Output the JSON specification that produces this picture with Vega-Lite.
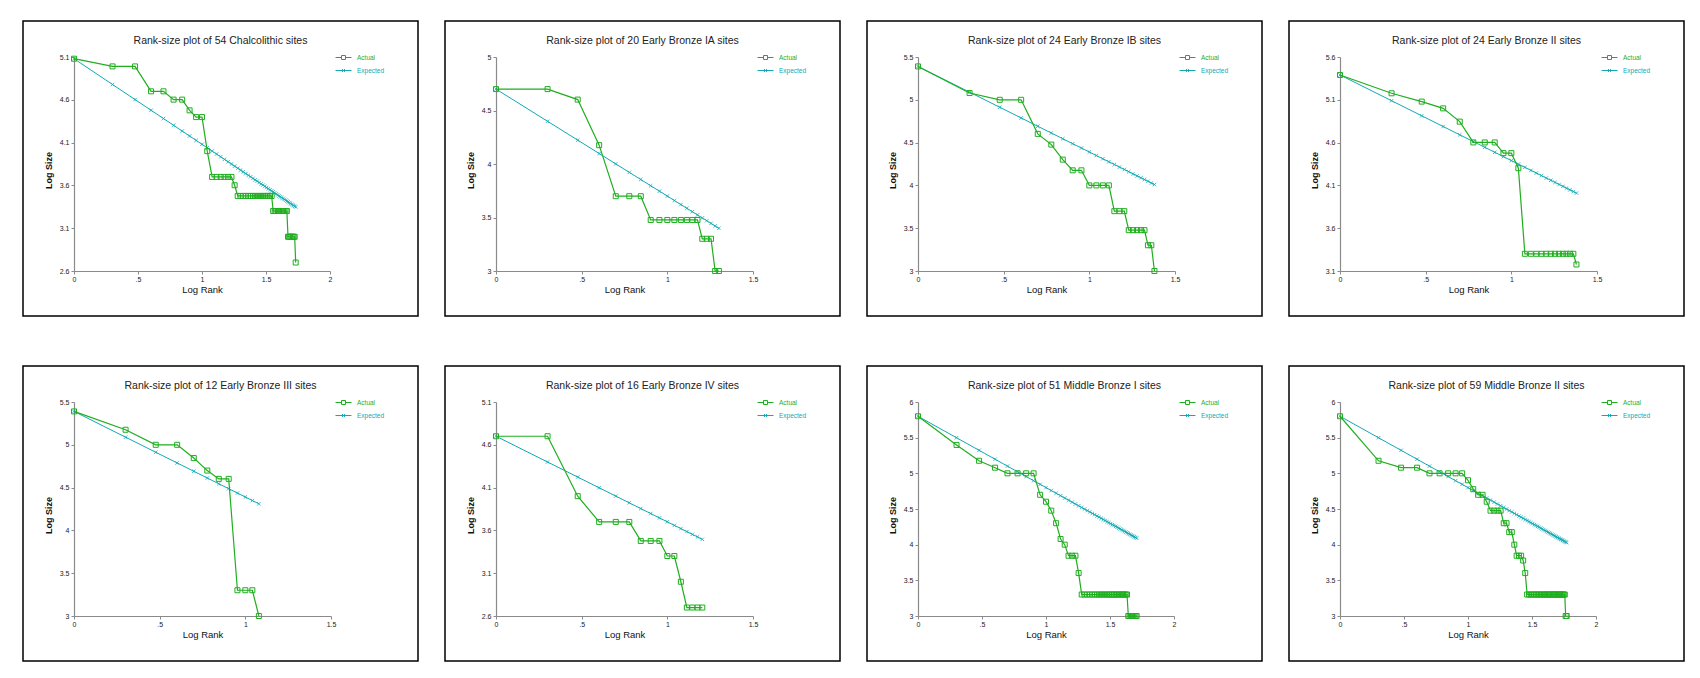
{
"$schema": "https://vega.github.io/schema/vega-lite/v6.json",
"padding": {"left": 22, "top": 20, "right": 5, "bottom": 5},
"background": "white",
"columns": 4,
"spacing": {"row": 48, "column": 25},
"resolve": {"scale": {"color": "independent", "x": "independent", "y": "independent"}, "legend": {"color": "independent"}},
"datasets": {
"p1": [
{"r":0,"a":5.08,"e":5.08},{"r":0.301,"a":4.99,"e":4.779},{"r":0.477,"a":4.99,"e":4.603},{"r":0.602,"a":4.699,"e":4.478},{"r":0.699,"a":4.699,"e":4.381},{"r":0.778,"a":4.602,"e":4.302},{"r":0.845,"a":4.602,"e":4.235},{"r":0.903,"a":4.477,"e":4.177},{"r":0.954,"a":4.398,"e":4.126},{"r":1,"a":4.398,"e":4.08},
{"r":1.041,"a":4.0,"e":4.039},{"r":1.079,"a":3.699,"e":4.001},{"r":1.114,"a":3.699,"e":3.966},{"r":1.146,"a":3.699,"e":3.934},{"r":1.176,"a":3.699,"e":3.904},{"r":1.204,"a":3.699,"e":3.876},{"r":1.23,"a":3.699,"e":3.85},{"r":1.255,"a":3.602,"e":3.825},{"r":1.279,"a":3.477,"e":3.801},{"r":1.301,"a":3.477,"e":3.779},
{"r":1.322,"a":3.477,"e":3.758},{"r":1.342,"a":3.477,"e":3.738},{"r":1.362,"a":3.477,"e":3.718},{"r":1.38,"a":3.477,"e":3.7},{"r":1.398,"a":3.477,"e":3.682},{"r":1.415,"a":3.477,"e":3.665},{"r":1.431,"a":3.477,"e":3.649},{"r":1.447,"a":3.477,"e":3.633},{"r":1.462,"a":3.477,"e":3.618},{"r":1.477,"a":3.477,"e":3.603},
{"r":1.491,"a":3.477,"e":3.589},{"r":1.505,"a":3.477,"e":3.575},{"r":1.519,"a":3.477,"e":3.561},{"r":1.531,"a":3.477,"e":3.549},{"r":1.544,"a":3.477,"e":3.536},{"r":1.556,"a":3.301,"e":3.524},{"r":1.568,"a":3.301,"e":3.512},{"r":1.58,"a":3.301,"e":3.5},{"r":1.591,"a":3.301,"e":3.489},{"r":1.602,"a":3.301,"e":3.478},
{"r":1.613,"a":3.301,"e":3.467},{"r":1.623,"a":3.301,"e":3.457},{"r":1.633,"a":3.301,"e":3.447},{"r":1.643,"a":3.301,"e":3.437},{"r":1.653,"a":3.301,"e":3.427},{"r":1.663,"a":3.301,"e":3.417},{"r":1.672,"a":3.0,"e":3.408},{"r":1.681,"a":3.0,"e":3.399},{"r":1.69,"a":3.0,"e":3.39},{"r":1.699,"a":3.0,"e":3.381},
{"r":1.708,"a":3.0,"e":3.372},{"r":1.716,"a":3.0,"e":3.364},{"r":1.724,"a":3.0,"e":3.356},{"r":1.732,"a":2.699,"e":3.348}
],
"p2": [
{"r":0,"a":4.7,"e":4.7},{"r":0.301,"a":4.7,"e":4.399},{"r":0.477,"a":4.602,"e":4.223},{"r":0.602,"a":4.176,"e":4.098},{"r":0.699,"a":3.699,"e":4.001},{"r":0.778,"a":3.699,"e":3.922},{"r":0.845,"a":3.699,"e":3.855},{"r":0.903,"a":3.477,"e":3.797},{"r":0.954,"a":3.477,"e":3.746},{"r":1,"a":3.477,"e":3.7},
{"r":1.041,"a":3.477,"e":3.659},{"r":1.079,"a":3.477,"e":3.621},{"r":1.114,"a":3.477,"e":3.586},{"r":1.146,"a":3.477,"e":3.554},{"r":1.176,"a":3.477,"e":3.524},{"r":1.204,"a":3.301,"e":3.496},{"r":1.23,"a":3.301,"e":3.47},{"r":1.255,"a":3.301,"e":3.445},{"r":1.279,"a":3.0,"e":3.421},{"r":1.301,"a":3.0,"e":3.399}
],
"p3": [
{"r":0,"a":5.39,"e":5.39},{"r":0.301,"a":5.079,"e":5.089},{"r":0.477,"a":5.0,"e":4.913},{"r":0.602,"a":5.0,"e":4.788},{"r":0.699,"a":4.602,"e":4.691},{"r":0.778,"a":4.477,"e":4.612},{"r":0.845,"a":4.301,"e":4.545},{"r":0.903,"a":4.176,"e":4.487},{"r":0.954,"a":4.176,"e":4.436},{"r":1,"a":4.0,"e":4.39},
{"r":1.041,"a":4.0,"e":4.349},{"r":1.079,"a":4.0,"e":4.311},{"r":1.114,"a":4.0,"e":4.276},{"r":1.146,"a":3.699,"e":4.244},{"r":1.176,"a":3.699,"e":4.214},{"r":1.204,"a":3.699,"e":4.186},{"r":1.23,"a":3.477,"e":4.16},{"r":1.255,"a":3.477,"e":4.135},{"r":1.279,"a":3.477,"e":4.111},{"r":1.301,"a":3.477,"e":4.089},
{"r":1.322,"a":3.477,"e":4.068},{"r":1.342,"a":3.301,"e":4.048},{"r":1.362,"a":3.301,"e":4.028},{"r":1.38,"a":3.0,"e":4.01}
],
"p4": [
{"r":0,"a":5.39,"e":5.39},{"r":0.301,"a":5.176,"e":5.089},{"r":0.477,"a":5.079,"e":4.913},{"r":0.602,"a":5.0,"e":4.788},{"r":0.699,"a":4.845,"e":4.691},{"r":0.778,"a":4.602,"e":4.612},{"r":0.845,"a":4.602,"e":4.545},{"r":0.903,"a":4.602,"e":4.487},{"r":0.954,"a":4.477,"e":4.436},{"r":1,"a":4.477,"e":4.39},
{"r":1.041,"a":4.301,"e":4.349},{"r":1.079,"a":3.301,"e":4.311},{"r":1.114,"a":3.301,"e":4.276},{"r":1.146,"a":3.301,"e":4.244},{"r":1.176,"a":3.301,"e":4.214},{"r":1.204,"a":3.301,"e":4.186},{"r":1.23,"a":3.301,"e":4.16},{"r":1.255,"a":3.301,"e":4.135},{"r":1.279,"a":3.301,"e":4.111},{"r":1.301,"a":3.301,"e":4.089},
{"r":1.322,"a":3.301,"e":4.068},{"r":1.342,"a":3.301,"e":4.048},{"r":1.362,"a":3.301,"e":4.028},{"r":1.38,"a":3.176,"e":4.01}
],
"p5": [
{"r":0,"a":5.39,"e":5.39},{"r":0.301,"a":5.176,"e":5.089},{"r":0.477,"a":5.0,"e":4.913},{"r":0.602,"a":5.0,"e":4.788},{"r":0.699,"a":4.845,"e":4.691},{"r":0.778,"a":4.699,"e":4.612},{"r":0.845,"a":4.602,"e":4.545},{"r":0.903,"a":4.602,"e":4.487},{"r":0.954,"a":3.301,"e":4.436},{"r":1,"a":3.301,"e":4.39},
{"r":1.041,"a":3.301,"e":4.349},{"r":1.079,"a":3.0,"e":4.311}
],
"p6": [
{"r":0,"a":4.7,"e":4.7},{"r":0.301,"a":4.7,"e":4.399},{"r":0.477,"a":4.0,"e":4.223},{"r":0.602,"a":3.699,"e":4.098},{"r":0.699,"a":3.699,"e":4.001},{"r":0.778,"a":3.699,"e":3.922},{"r":0.845,"a":3.477,"e":3.855},{"r":0.903,"a":3.477,"e":3.797},{"r":0.954,"a":3.477,"e":3.746},{"r":1,"a":3.301,"e":3.7},
{"r":1.041,"a":3.301,"e":3.659},{"r":1.079,"a":3.0,"e":3.621},{"r":1.114,"a":2.699,"e":3.586},{"r":1.146,"a":2.699,"e":3.554},{"r":1.176,"a":2.699,"e":3.524},{"r":1.204,"a":2.699,"e":3.496}
],
"p7": [
{"r":0,"a":5.8,"e":5.8},{"r":0.301,"a":5.398,"e":5.499},{"r":0.477,"a":5.176,"e":5.323},{"r":0.602,"a":5.079,"e":5.198},{"r":0.699,"a":5.0,"e":5.101},{"r":0.778,"a":5.0,"e":5.022},{"r":0.845,"a":5.0,"e":4.955},{"r":0.903,"a":5.0,"e":4.897},{"r":0.954,"a":4.699,"e":4.846},{"r":1,"a":4.602,"e":4.8},
{"r":1.041,"a":4.477,"e":4.759},{"r":1.079,"a":4.301,"e":4.721},{"r":1.114,"a":4.079,"e":4.686},{"r":1.146,"a":4.0,"e":4.654},{"r":1.176,"a":3.845,"e":4.624},{"r":1.204,"a":3.845,"e":4.596},{"r":1.23,"a":3.845,"e":4.57},{"r":1.255,"a":3.602,"e":4.545},{"r":1.279,"a":3.301,"e":4.521},{"r":1.301,"a":3.301,"e":4.499},
{"r":1.322,"a":3.301,"e":4.478},{"r":1.342,"a":3.301,"e":4.458},{"r":1.362,"a":3.301,"e":4.438},{"r":1.38,"a":3.301,"e":4.42},{"r":1.398,"a":3.301,"e":4.402},{"r":1.415,"a":3.301,"e":4.385},{"r":1.431,"a":3.301,"e":4.369},{"r":1.447,"a":3.301,"e":4.353},{"r":1.462,"a":3.301,"e":4.338},{"r":1.477,"a":3.301,"e":4.323},
{"r":1.491,"a":3.301,"e":4.309},{"r":1.505,"a":3.301,"e":4.295},{"r":1.519,"a":3.301,"e":4.281},{"r":1.531,"a":3.301,"e":4.269},{"r":1.544,"a":3.301,"e":4.256},{"r":1.556,"a":3.301,"e":4.244},{"r":1.568,"a":3.301,"e":4.232},{"r":1.58,"a":3.301,"e":4.22},{"r":1.591,"a":3.301,"e":4.209},{"r":1.602,"a":3.301,"e":4.198},
{"r":1.613,"a":3.301,"e":4.187},{"r":1.623,"a":3.301,"e":4.177},{"r":1.633,"a":3.301,"e":4.167},{"r":1.643,"a":3.0,"e":4.157},{"r":1.653,"a":3.0,"e":4.147},{"r":1.663,"a":3.0,"e":4.137},{"r":1.672,"a":3.0,"e":4.128},{"r":1.681,"a":3.0,"e":4.119},{"r":1.69,"a":3.0,"e":4.11},{"r":1.699,"a":3.0,"e":4.101},
{"r":1.708,"a":3.0,"e":4.092}
],
"p8": [
{"r":0,"a":5.8,"e":5.8},{"r":0.301,"a":5.176,"e":5.499},{"r":0.477,"a":5.079,"e":5.323},{"r":0.602,"a":5.079,"e":5.198},{"r":0.699,"a":5.0,"e":5.101},{"r":0.778,"a":5.0,"e":5.022},{"r":0.845,"a":5.0,"e":4.955},{"r":0.903,"a":5.0,"e":4.897},{"r":0.954,"a":5.0,"e":4.846},{"r":1,"a":4.903,"e":4.8},
{"r":1.041,"a":4.778,"e":4.759},{"r":1.079,"a":4.699,"e":4.721},{"r":1.114,"a":4.699,"e":4.686},{"r":1.146,"a":4.602,"e":4.654},{"r":1.176,"a":4.477,"e":4.624},{"r":1.204,"a":4.477,"e":4.596},{"r":1.23,"a":4.477,"e":4.57},{"r":1.255,"a":4.477,"e":4.545},{"r":1.279,"a":4.301,"e":4.521},{"r":1.301,"a":4.301,"e":4.499},
{"r":1.322,"a":4.176,"e":4.478},{"r":1.342,"a":4.176,"e":4.458},{"r":1.362,"a":4.0,"e":4.438},{"r":1.38,"a":3.845,"e":4.42},{"r":1.398,"a":3.845,"e":4.402},{"r":1.415,"a":3.845,"e":4.385},{"r":1.431,"a":3.778,"e":4.369},{"r":1.447,"a":3.602,"e":4.353},{"r":1.462,"a":3.301,"e":4.338},{"r":1.477,"a":3.301,"e":4.323},
{"r":1.491,"a":3.301,"e":4.309},{"r":1.505,"a":3.301,"e":4.295},{"r":1.519,"a":3.301,"e":4.281},{"r":1.531,"a":3.301,"e":4.269},{"r":1.544,"a":3.301,"e":4.256},{"r":1.556,"a":3.301,"e":4.244},{"r":1.568,"a":3.301,"e":4.232},{"r":1.58,"a":3.301,"e":4.22},{"r":1.591,"a":3.301,"e":4.209},{"r":1.602,"a":3.301,"e":4.198},
{"r":1.613,"a":3.301,"e":4.187},{"r":1.623,"a":3.301,"e":4.177},{"r":1.633,"a":3.301,"e":4.167},{"r":1.643,"a":3.301,"e":4.157},{"r":1.653,"a":3.301,"e":4.147},{"r":1.663,"a":3.301,"e":4.137},{"r":1.672,"a":3.301,"e":4.128},{"r":1.681,"a":3.301,"e":4.119},{"r":1.69,"a":3.301,"e":4.11},{"r":1.699,"a":3.301,"e":4.101},
{"r":1.708,"a":3.301,"e":4.092},{"r":1.716,"a":3.301,"e":4.084},{"r":1.724,"a":3.301,"e":4.076},{"r":1.732,"a":3.301,"e":4.068},{"r":1.74,"a":3.301,"e":4.06},{"r":1.748,"a":3.301,"e":4.052},{"r":1.756,"a":3.301,"e":4.044},{"r":1.763,"a":3.0,"e":4.037},{"r":1.771,"a":3.0,"e":4.029}
]
},
"concat": [
{
"width": 395, "height": 295, "data": {"name": "p1"},
"title": {"text": "Rank-size plot of 54 Chalcolithic sites"},
"encoding": {"x": {"field": "r", "type": "quantitative", "scale": {"domain": [0, 2], "range": [51, 307], "nice": false, "zero": false}, "axis": {"values": [0, 0.5, 1, 1.5, 2], "format": ".1~f", "labelExpr": "datum.value == 0.5 ? '.5' : datum.label", "title": "Log Rank", "orient": "bottom", "offset": -45}}},
"layer": [
{"mark": {"type": "line", "strokeWidth": 1, "point": {"shape": "M-1,-1L1,1M-1,1L1,-1", "size": 12, "filled": false, "strokeWidth": 0.8}},
 "encoding": {"y": {"field": "e", "type": "quantitative", "scale": {"domain": [2.6, 5.1], "range": [250, 36], "nice": false, "zero": false}, "axis": {"values": [2.6, 3.1, 3.6, 4.1, 4.6, 5.1], "format": ".1~f", "title": "Log Size", "orient": "left", "offset": -51, "titleY": 149}},
  "color": {"datum": "Expected", "scale": {"domain": ["Actual", "Expected"], "range": ["#1fae1f", "#12a9b4"]}, "legend": {"orient": "none", "legendX": 314, "legendY": 30, "title": null, "padding": 0, "labelFont": "Liberation Sans", "labelFontSize": 6.5, "labelOffset": 7, "symbolSize": 130, "rowPadding": 2, "encode": {"symbols": {"update": {"shape": {"signal": "datum.value === 'Actual' ? 'M-1.4,0H-0.35M0.35,0H1.4M-0.35,-0.35H0.35V0.35H-0.35Z' : 'M-1.4,0H1.4M-0.25,-0.25L0.25,0.25M-0.25,0.25L0.25,-0.25'"}, "fill": {"value": "transparent"}, "stroke": {"signal": "datum.value === 'Actual' ? '#1fae1f' : '#12a9b4'"}, "strokeWidth": {"value": 1}}}, "labels": {"update": {"fill": {"signal": "datum.value === 'Actual' ? '#1fae1f' : '#12a9b4'"}}}}}}}},
{"mark": {"type": "line", "strokeWidth": 1.2, "point": {"shape": "square", "size": 25, "filled": false, "strokeWidth": 1}},
 "encoding": {"y": {"field": "a", "type": "quantitative", "axis": {"values": [2.6, 3.1, 3.6, 4.1, 4.6, 5.1], "format": ".1~f", "title": "Log Size", "orient": "left", "offset": -51, "titleY": 149}}, "color": {"datum": "Actual"}}}
]
},
{
"width": 395, "height": 295, "data": {"name": "p2"},
"title": {"text": "Rank-size plot of 20 Early Bronze IA sites"},
"encoding": {"x": {"field": "r", "type": "quantitative", "scale": {"domain": [0, 1.5], "range": [51, 308], "nice": false, "zero": false}, "axis": {"values": [0, 0.5, 1, 1.5], "format": ".1~f", "labelExpr": "datum.value == 0.5 ? '.5' : datum.label", "title": "Log Rank", "orient": "bottom", "offset": -45}}},
"layer": [
{"mark": {"type": "line", "strokeWidth": 1, "point": {"shape": "M-1,-1L1,1M-1,1L1,-1", "size": 12, "filled": false, "strokeWidth": 0.8}},
 "encoding": {"y": {"field": "e", "type": "quantitative", "scale": {"domain": [3, 5], "range": [250, 36], "nice": false, "zero": false}, "axis": {"values": [3, 3.5, 4, 4.5, 5], "format": ".1~f", "title": "Log Size", "orient": "left", "offset": -51, "titleY": 149}},
  "color": {"datum": "Expected", "scale": {"domain": ["Actual", "Expected"], "range": ["#1fae1f", "#12a9b4"]}, "legend": {"orient": "none", "legendX": 314, "legendY": 30, "title": null, "padding": 0, "labelFont": "Liberation Sans", "labelFontSize": 6.5, "labelOffset": 7, "symbolSize": 130, "rowPadding": 2, "encode": {"symbols": {"update": {"shape": {"signal": "datum.value === 'Actual' ? 'M-1.4,0H-0.35M0.35,0H1.4M-0.35,-0.35H0.35V0.35H-0.35Z' : 'M-1.4,0H1.4M-0.25,-0.25L0.25,0.25M-0.25,0.25L0.25,-0.25'"}, "fill": {"value": "transparent"}, "stroke": {"signal": "datum.value === 'Actual' ? '#1fae1f' : '#12a9b4'"}, "strokeWidth": {"value": 1}}}, "labels": {"update": {"fill": {"signal": "datum.value === 'Actual' ? '#1fae1f' : '#12a9b4'"}}}}}}}},
{"mark": {"type": "line", "strokeWidth": 1.2, "point": {"shape": "square", "size": 25, "filled": false, "strokeWidth": 1}},
 "encoding": {"y": {"field": "a", "type": "quantitative", "axis": {"values": [3, 3.5, 4, 4.5, 5], "format": ".1~f", "title": "Log Size", "orient": "left", "offset": -51, "titleY": 149}}, "color": {"datum": "Actual"}}}
]
},
{
"width": 395, "height": 295, "data": {"name": "p3"},
"title": {"text": "Rank-size plot of 24 Early Bronze IB sites"},
"encoding": {"x": {"field": "r", "type": "quantitative", "scale": {"domain": [0, 1.5], "range": [51, 308], "nice": false, "zero": false}, "axis": {"values": [0, 0.5, 1, 1.5], "format": ".1~f", "labelExpr": "datum.value == 0.5 ? '.5' : datum.label", "title": "Log Rank", "orient": "bottom", "offset": -45}}},
"layer": [
{"mark": {"type": "line", "strokeWidth": 1, "point": {"shape": "M-1,-1L1,1M-1,1L1,-1", "size": 12, "filled": false, "strokeWidth": 0.8}},
 "encoding": {"y": {"field": "e", "type": "quantitative", "scale": {"domain": [3, 5.5], "range": [250, 36], "nice": false, "zero": false}, "axis": {"values": [3, 3.5, 4, 4.5, 5, 5.5], "format": ".1~f", "title": "Log Size", "orient": "left", "offset": -51, "titleY": 149}},
  "color": {"datum": "Expected", "scale": {"domain": ["Actual", "Expected"], "range": ["#1fae1f", "#12a9b4"]}, "legend": {"orient": "none", "legendX": 314, "legendY": 30, "title": null, "padding": 0, "labelFont": "Liberation Sans", "labelFontSize": 6.5, "labelOffset": 7, "symbolSize": 130, "rowPadding": 2, "encode": {"symbols": {"update": {"shape": {"signal": "datum.value === 'Actual' ? 'M-1.4,0H-0.35M0.35,0H1.4M-0.35,-0.35H0.35V0.35H-0.35Z' : 'M-1.4,0H1.4M-0.25,-0.25L0.25,0.25M-0.25,0.25L0.25,-0.25'"}, "fill": {"value": "transparent"}, "stroke": {"signal": "datum.value === 'Actual' ? '#1fae1f' : '#12a9b4'"}, "strokeWidth": {"value": 1}}}, "labels": {"update": {"fill": {"signal": "datum.value === 'Actual' ? '#1fae1f' : '#12a9b4'"}}}}}}}},
{"mark": {"type": "line", "strokeWidth": 1.2, "point": {"shape": "square", "size": 25, "filled": false, "strokeWidth": 1}},
 "encoding": {"y": {"field": "a", "type": "quantitative", "axis": {"values": [3, 3.5, 4, 4.5, 5, 5.5], "format": ".1~f", "title": "Log Size", "orient": "left", "offset": -51, "titleY": 149}}, "color": {"datum": "Actual"}}}
]
},
{
"width": 395, "height": 295, "data": {"name": "p4"},
"title": {"text": "Rank-size plot of 24 Early Bronze II sites"},
"encoding": {"x": {"field": "r", "type": "quantitative", "scale": {"domain": [0, 1.5], "range": [51, 308], "nice": false, "zero": false}, "axis": {"values": [0, 0.5, 1, 1.5], "format": ".1~f", "labelExpr": "datum.value == 0.5 ? '.5' : datum.label", "title": "Log Rank", "orient": "bottom", "offset": -45}}},
"layer": [
{"mark": {"type": "line", "strokeWidth": 1, "point": {"shape": "M-1,-1L1,1M-1,1L1,-1", "size": 12, "filled": false, "strokeWidth": 0.8}},
 "encoding": {"y": {"field": "e", "type": "quantitative", "scale": {"domain": [3.1, 5.6], "range": [250, 36], "nice": false, "zero": false}, "axis": {"values": [3.1, 3.6, 4.1, 4.6, 5.1, 5.6], "format": ".1~f", "title": "Log Size", "orient": "left", "offset": -51, "titleY": 149}},
  "color": {"datum": "Expected", "scale": {"domain": ["Actual", "Expected"], "range": ["#1fae1f", "#12a9b4"]}, "legend": {"orient": "none", "legendX": 314, "legendY": 30, "title": null, "padding": 0, "labelFont": "Liberation Sans", "labelFontSize": 6.5, "labelOffset": 7, "symbolSize": 130, "rowPadding": 2, "encode": {"symbols": {"update": {"shape": {"signal": "datum.value === 'Actual' ? 'M-1.4,0H-0.35M0.35,0H1.4M-0.35,-0.35H0.35V0.35H-0.35Z' : 'M-1.4,0H1.4M-0.25,-0.25L0.25,0.25M-0.25,0.25L0.25,-0.25'"}, "fill": {"value": "transparent"}, "stroke": {"signal": "datum.value === 'Actual' ? '#1fae1f' : '#12a9b4'"}, "strokeWidth": {"value": 1}}}, "labels": {"update": {"fill": {"signal": "datum.value === 'Actual' ? '#1fae1f' : '#12a9b4'"}}}}}}}},
{"mark": {"type": "line", "strokeWidth": 1.2, "point": {"shape": "square", "size": 25, "filled": false, "strokeWidth": 1}},
 "encoding": {"y": {"field": "a", "type": "quantitative", "axis": {"values": [3.1, 3.6, 4.1, 4.6, 5.1, 5.6], "format": ".1~f", "title": "Log Size", "orient": "left", "offset": -51, "titleY": 149}}, "color": {"datum": "Actual"}}}
]
},
{
"width": 395, "height": 295, "data": {"name": "p5"},
"title": {"text": "Rank-size plot of 12 Early Bronze III sites"},
"encoding": {"x": {"field": "r", "type": "quantitative", "scale": {"domain": [0, 1.5], "range": [51, 308], "nice": false, "zero": false}, "axis": {"values": [0, 0.5, 1, 1.5], "format": ".1~f", "labelExpr": "datum.value == 0.5 ? '.5' : datum.label", "title": "Log Rank", "orient": "bottom", "offset": -45}}},
"layer": [
{"mark": {"type": "line", "strokeWidth": 1, "point": {"shape": "M-1,-1L1,1M-1,1L1,-1", "size": 12, "filled": false, "strokeWidth": 0.8}},
 "encoding": {"y": {"field": "e", "type": "quantitative", "scale": {"domain": [3, 5.5], "range": [250, 36], "nice": false, "zero": false}, "axis": {"values": [3, 3.5, 4, 4.5, 5, 5.5], "format": ".1~f", "title": "Log Size", "orient": "left", "offset": -51, "titleY": 149}},
  "color": {"datum": "Expected", "scale": {"domain": ["Actual", "Expected"], "range": ["#1fae1f", "#12a9b4"]}, "legend": {"orient": "none", "legendX": 314, "legendY": 30, "title": null, "padding": 0, "labelFont": "Liberation Sans", "labelFontSize": 6.5, "labelOffset": 7, "symbolSize": 130, "rowPadding": 2, "encode": {"symbols": {"update": {"shape": {"signal": "datum.value === 'Actual' ? 'M-1.4,0H-0.35M0.35,0H1.4M-0.35,-0.35H0.35V0.35H-0.35Z' : 'M-1.4,0H1.4M-0.25,-0.25L0.25,0.25M-0.25,0.25L0.25,-0.25'"}, "fill": {"value": "transparent"}, "stroke": {"signal": "datum.value === 'Actual' ? '#1fae1f' : '#12a9b4'"}, "strokeWidth": {"value": 1}}}, "labels": {"update": {"fill": {"signal": "datum.value === 'Actual' ? '#1fae1f' : '#12a9b4'"}}}}}}}},
{"mark": {"type": "line", "strokeWidth": 1.2, "point": {"shape": "square", "size": 25, "filled": false, "strokeWidth": 1}},
 "encoding": {"y": {"field": "a", "type": "quantitative", "axis": {"values": [3, 3.5, 4, 4.5, 5, 5.5], "format": ".1~f", "title": "Log Size", "orient": "left", "offset": -51, "titleY": 149}}, "color": {"datum": "Actual"}}}
]
},
{
"width": 395, "height": 295, "data": {"name": "p6"},
"title": {"text": "Rank-size plot of 16 Early Bronze IV sites"},
"encoding": {"x": {"field": "r", "type": "quantitative", "scale": {"domain": [0, 1.5], "range": [51, 308], "nice": false, "zero": false}, "axis": {"values": [0, 0.5, 1, 1.5], "format": ".1~f", "labelExpr": "datum.value == 0.5 ? '.5' : datum.label", "title": "Log Rank", "orient": "bottom", "offset": -45}}},
"layer": [
{"mark": {"type": "line", "strokeWidth": 1, "point": {"shape": "M-1,-1L1,1M-1,1L1,-1", "size": 12, "filled": false, "strokeWidth": 0.8}},
 "encoding": {"y": {"field": "e", "type": "quantitative", "scale": {"domain": [2.6, 5.1], "range": [250, 36], "nice": false, "zero": false}, "axis": {"values": [2.6, 3.1, 3.6, 4.1, 4.6, 5.1], "format": ".1~f", "title": "Log Size", "orient": "left", "offset": -51, "titleY": 149}},
  "color": {"datum": "Expected", "scale": {"domain": ["Actual", "Expected"], "range": ["#1fae1f", "#12a9b4"]}, "legend": {"orient": "none", "legendX": 314, "legendY": 30, "title": null, "padding": 0, "labelFont": "Liberation Sans", "labelFontSize": 6.5, "labelOffset": 7, "symbolSize": 130, "rowPadding": 2, "encode": {"symbols": {"update": {"shape": {"signal": "datum.value === 'Actual' ? 'M-1.4,0H-0.35M0.35,0H1.4M-0.35,-0.35H0.35V0.35H-0.35Z' : 'M-1.4,0H1.4M-0.25,-0.25L0.25,0.25M-0.25,0.25L0.25,-0.25'"}, "fill": {"value": "transparent"}, "stroke": {"signal": "datum.value === 'Actual' ? '#1fae1f' : '#12a9b4'"}, "strokeWidth": {"value": 1}}}, "labels": {"update": {"fill": {"signal": "datum.value === 'Actual' ? '#1fae1f' : '#12a9b4'"}}}}}}}},
{"mark": {"type": "line", "strokeWidth": 1.2, "point": {"shape": "square", "size": 25, "filled": false, "strokeWidth": 1}},
 "encoding": {"y": {"field": "a", "type": "quantitative", "axis": {"values": [2.6, 3.1, 3.6, 4.1, 4.6, 5.1], "format": ".1~f", "title": "Log Size", "orient": "left", "offset": -51, "titleY": 149}}, "color": {"datum": "Actual"}}}
]
},
{
"width": 395, "height": 295, "data": {"name": "p7"},
"title": {"text": "Rank-size plot of 51 Middle Bronze I sites"},
"encoding": {"x": {"field": "r", "type": "quantitative", "scale": {"domain": [0, 2], "range": [51, 307], "nice": false, "zero": false}, "axis": {"values": [0, 0.5, 1, 1.5, 2], "format": ".1~f", "labelExpr": "datum.value == 0.5 ? '.5' : datum.label", "title": "Log Rank", "orient": "bottom", "offset": -45}}},
"layer": [
{"mark": {"type": "line", "strokeWidth": 1, "point": {"shape": "M-1,-1L1,1M-1,1L1,-1", "size": 12, "filled": false, "strokeWidth": 0.8}},
 "encoding": {"y": {"field": "e", "type": "quantitative", "scale": {"domain": [3, 6], "range": [250, 36], "nice": false, "zero": false}, "axis": {"values": [3, 3.5, 4, 4.5, 5, 5.5, 6], "format": ".1~f", "title": "Log Size", "orient": "left", "offset": -51, "titleY": 149}},
  "color": {"datum": "Expected", "scale": {"domain": ["Actual", "Expected"], "range": ["#1fae1f", "#12a9b4"]}, "legend": {"orient": "none", "legendX": 314, "legendY": 30, "title": null, "padding": 0, "labelFont": "Liberation Sans", "labelFontSize": 6.5, "labelOffset": 7, "symbolSize": 130, "rowPadding": 2, "encode": {"symbols": {"update": {"shape": {"signal": "datum.value === 'Actual' ? 'M-1.4,0H-0.35M0.35,0H1.4M-0.35,-0.35H0.35V0.35H-0.35Z' : 'M-1.4,0H1.4M-0.25,-0.25L0.25,0.25M-0.25,0.25L0.25,-0.25'"}, "fill": {"value": "transparent"}, "stroke": {"signal": "datum.value === 'Actual' ? '#1fae1f' : '#12a9b4'"}, "strokeWidth": {"value": 1}}}, "labels": {"update": {"fill": {"signal": "datum.value === 'Actual' ? '#1fae1f' : '#12a9b4'"}}}}}}}},
{"mark": {"type": "line", "strokeWidth": 1.2, "point": {"shape": "square", "size": 25, "filled": false, "strokeWidth": 1}},
 "encoding": {"y": {"field": "a", "type": "quantitative", "axis": {"values": [3, 3.5, 4, 4.5, 5, 5.5, 6], "format": ".1~f", "title": "Log Size", "orient": "left", "offset": -51, "titleY": 149}}, "color": {"datum": "Actual"}}}
]
},
{
"width": 395, "height": 295, "data": {"name": "p8"},
"title": {"text": "Rank-size plot of 59 Middle Bronze II sites"},
"encoding": {"x": {"field": "r", "type": "quantitative", "scale": {"domain": [0, 2], "range": [51, 307], "nice": false, "zero": false}, "axis": {"values": [0, 0.5, 1, 1.5, 2], "format": ".1~f", "labelExpr": "datum.value == 0.5 ? '.5' : datum.label", "title": "Log Rank", "orient": "bottom", "offset": -45}}},
"layer": [
{"mark": {"type": "line", "strokeWidth": 1, "point": {"shape": "M-1,-1L1,1M-1,1L1,-1", "size": 12, "filled": false, "strokeWidth": 0.8}},
 "encoding": {"y": {"field": "e", "type": "quantitative", "scale": {"domain": [3, 6], "range": [250, 36], "nice": false, "zero": false}, "axis": {"values": [3, 3.5, 4, 4.5, 5, 5.5, 6], "format": ".1~f", "title": "Log Size", "orient": "left", "offset": -51, "titleY": 149}},
  "color": {"datum": "Expected", "scale": {"domain": ["Actual", "Expected"], "range": ["#1fae1f", "#12a9b4"]}, "legend": {"orient": "none", "legendX": 314, "legendY": 30, "title": null, "padding": 0, "labelFont": "Liberation Sans", "labelFontSize": 6.5, "labelOffset": 7, "symbolSize": 130, "rowPadding": 2, "encode": {"symbols": {"update": {"shape": {"signal": "datum.value === 'Actual' ? 'M-1.4,0H-0.35M0.35,0H1.4M-0.35,-0.35H0.35V0.35H-0.35Z' : 'M-1.4,0H1.4M-0.25,-0.25L0.25,0.25M-0.25,0.25L0.25,-0.25'"}, "fill": {"value": "transparent"}, "stroke": {"signal": "datum.value === 'Actual' ? '#1fae1f' : '#12a9b4'"}, "strokeWidth": {"value": 1}}}, "labels": {"update": {"fill": {"signal": "datum.value === 'Actual' ? '#1fae1f' : '#12a9b4'"}}}}}}}},
{"mark": {"type": "line", "strokeWidth": 1.2, "point": {"shape": "square", "size": 25, "filled": false, "strokeWidth": 1}},
 "encoding": {"y": {"field": "a", "type": "quantitative", "axis": {"values": [3, 3.5, 4, 4.5, 5, 5.5, 6], "format": ".1~f", "title": "Log Size", "orient": "left", "offset": -51, "titleY": 149}}, "color": {"datum": "Actual"}}}
]
}
],
"config": {
"view": {"stroke": "#000000", "strokeWidth": 1.5},
"font": "Liberation Sans",
"axis": {"grid": false, "domainColor": "#8a8a8a", "domainWidth": 1.2, "tickColor": "#8a8a8a", "tickSize": 3, "tickWidth": 1, "labelFont": "Liberation Sans", "labelFontSize": 7, "labelColor": "#222222", "labelFlush": false, "titleFont": "Liberation Sans", "titleColor": "#111111"},
"axisX": {"labelPadding": 1, "titleFontSize": 9.5, "titleFontWeight": "normal", "titlePadding": 2},
"axisY": {"labelPadding": 2, "titleFontSize": 9, "titleFontWeight": "bold", "titlePadding": 6},
"title": {"font": "Liberation Sans", "fontSize": 10.5, "fontWeight": "normal", "color": "#222222", "offset": -25, "baseline": "middle", "anchor": "middle", "frame": "group"}
}
}
